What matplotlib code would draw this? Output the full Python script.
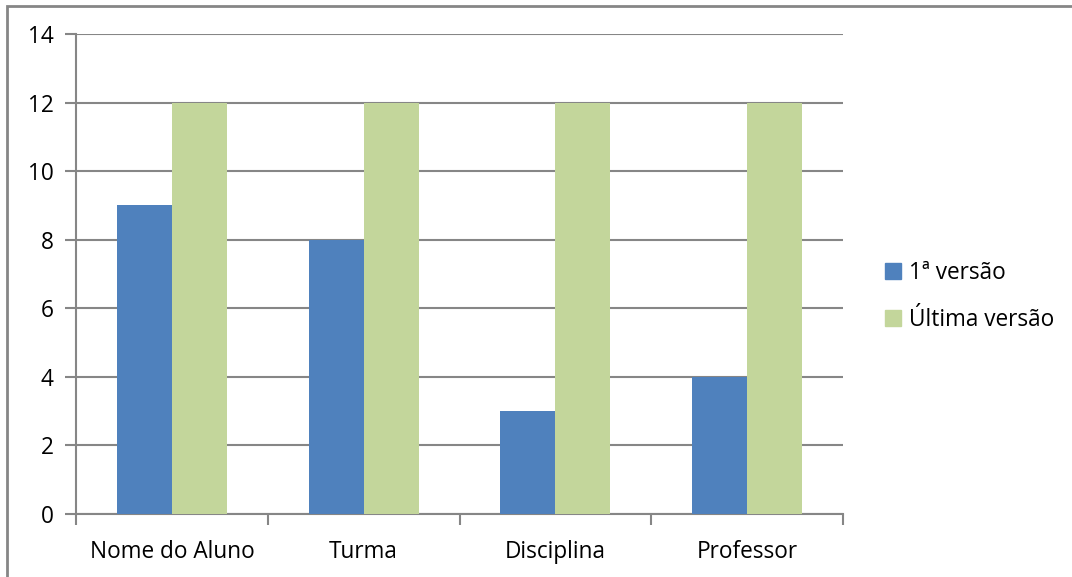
import numpy as np
import matplotlib.pyplot as plt
from matplotlib.patches import Rectangle
from matplotlib.lines import Line2D

categories = ["Nome do Aluno", "Turma", "Disciplina", "Professor"]
first_version = [9, 8, 3, 4]
last_version = [12, 12, 12, 12]
series_names = ["1ª versão", "Última versão"]

blue = "#4F81BD"
green = "#C3D69B"
gray = "#868686"

plt.rcParams['font.family'] = ['Open Sans', 'DejaVu Sans']
fs = 16.3

W, H = 1072, 577
fig = plt.figure(figsize=(W / 100, H / 100), dpi=100)

# outer chart border (only top and left edges are visible in the image)
fig.patches.append(Rectangle((7 / W, -0.1), 1.2, 1 - 5.5 / H + 0.1,
                             transform=fig.transFigure, fill=False,
                             edgecolor=gray, linewidth=2))

ax = fig.add_axes([76 / W, 1 - 514 / H, (843 - 76) / W, (514 - 34) / H])

x = np.arange(len(categories))
bw = 0.287
ax.bar(x - bw / 2, first_version, bw, color=blue, label=series_names[0], zorder=3)
ax.bar(x + bw / 2, last_version, bw, color=green, label=series_names[1], zorder=3)

ax.set_xlim(-0.5, len(categories) - 0.5)
ax.set_ylim(0, 14)
ax.set_yticks(range(0, 15, 2))
ax.yaxis.grid(True, color=gray, linewidth=1.5, zorder=0)

ax.set_xticks(x)
ax.set_xticklabels(categories)
ax.set_xticks(np.arange(-0.5, len(categories), 1), minor=True)
ax.tick_params(axis='x', which='major', length=0, pad=19, labelsize=fs)
ax.tick_params(axis='x', which='minor', length=8, width=1.5, color=gray)
ax.tick_params(axis='y', length=8, width=1.5, color=gray, pad=8, labelsize=fs)

for side in ['top', 'right']:
    ax.spines[side].set_visible(False)
for side in ['left', 'bottom']:
    ax.spines[side].set_color(gray)
    ax.spines[side].set_linewidth(1.5)

handles = [Line2D([], [], marker='s', linestyle='none', markersize=12,
                  markerfacecolor=c, markeredgecolor=c) for c in (blue, green)]
fig.legend(handles, series_names, loc='upper left',
           bbox_to_anchor=(861 / W, 1 - 241 / H), frameon=False,
           fontsize=fs, handletextpad=0.2, labelspacing=1.0,
           handlelength=1.0)

fig.savefig("out.png", dpi=100)
